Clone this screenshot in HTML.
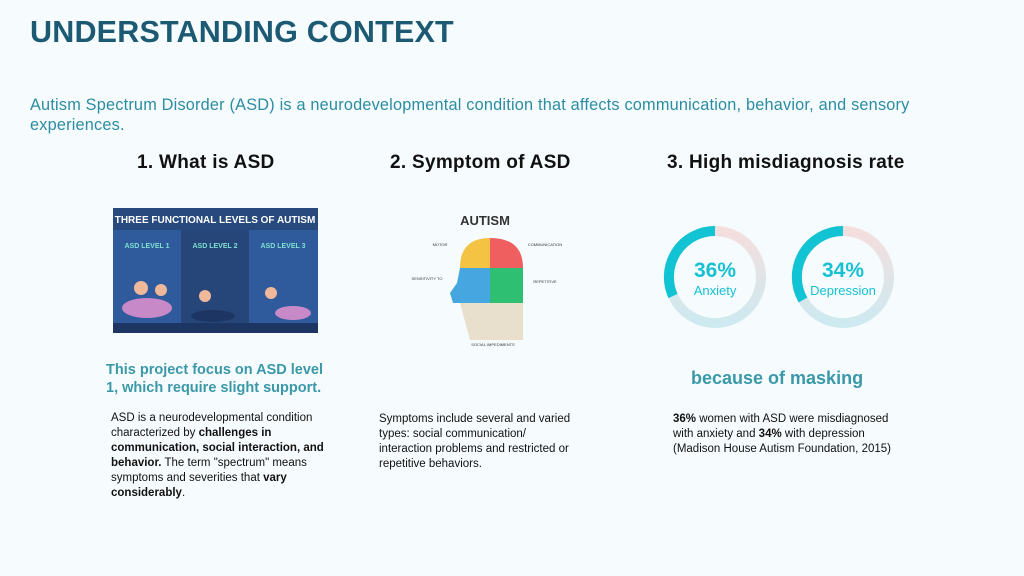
<!DOCTYPE html>
<html><head><meta charset="utf-8"><style>
*{margin:0;padding:0;box-sizing:border-box}
body{width:1024px;height:576px;background:#f6fcfd;font-family:"Liberation Sans",sans-serif;position:relative;overflow:hidden}
.a{position:absolute}
h1{position:absolute;left:30px;top:15px;font-size:30.5px;font-weight:700;color:#1c5a73;letter-spacing:0.2px}
.sub{left:30px;top:95px;width:920px;font-size:16.3px;line-height:20px;color:#2b8ca2;letter-spacing:0.2px}
.h{font-size:19px;font-weight:700;color:#111;top:152px;letter-spacing:0.3px}
.t{font-size:11.5px;line-height:15px;color:#111}
.teal{color:#3a98a8;font-weight:700}
</style></head><body>
<h1>UNDERSTANDING CONTEXT</h1>
<div class="a sub">Autism Spectrum Disorder (ASD) is a neurodevelopmental condition that affects communication, behavior, and sensory experiences.</div>
<div class="a h" style="left:137px">1. What is ASD</div>
<div class="a h" style="left:390px">2. Symptom of ASD</div>
<div class="a h" style="left:667px">3. High misdiagnosis rate</div>

<svg class="a" style="left:113px;top:208px" width="205" height="125">
<rect width="205" height="125" fill="#2f5b9c"/>
<rect width="205" height="22" fill="#27497e"/>
<text x="102" y="15" text-anchor="middle" font-size="10" fill="#fff" font-weight="700" font-family="Liberation Sans">THREE FUNCTIONAL LEVELS OF AUTISM</text>
<rect x="68" y="22" width="68" height="93" fill="#26467a"/>
<text x="34" y="40" text-anchor="middle" font-size="7" fill="#7fe0d0" font-weight="700">ASD LEVEL 1</text>
<text x="102" y="40" text-anchor="middle" font-size="7" fill="#7fe0d0" font-weight="700">ASD LEVEL 2</text>
<text x="170" y="40" text-anchor="middle" font-size="7" fill="#7fe0d0" font-weight="700">ASD LEVEL 3</text>
<ellipse cx="34" cy="100" rx="25" ry="10" fill="#c889c8"/>
<circle cx="28" cy="80" r="7" fill="#f0b89a"/><circle cx="48" cy="82" r="6" fill="#f0b89a"/>
<ellipse cx="100" cy="108" rx="22" ry="6" fill="#1d3563"/>
<circle cx="92" cy="88" r="6" fill="#f0b89a"/>
<circle cx="158" cy="85" r="6" fill="#f0b89a"/><ellipse cx="180" cy="105" rx="18" ry="7" fill="#c889c8"/>
<rect x="0" y="115" width="205" height="10" fill="#1d3563"/>
</svg>

<svg class="a" style="left:405px;top:208px" width="165" height="140" font-family="Liberation Sans">
<text x="80" y="17" text-anchor="middle" font-size="13" font-weight="700" fill="#333">AUTISM</text>
<path d="M55 60 Q55 30 85 30 L85 60 Z" fill="#f5c343"/>
<path d="M85 30 Q118 30 118 60 L85 60 Z" fill="#ef5f5f"/>
<path d="M55 60 L85 60 L85 95 L48 95 L45 85 L52 75 Z" fill="#46a6e0"/>
<path d="M85 60 L118 60 L118 95 L85 95 Z" fill="#2fbf73"/>
<path d="M55 95 L118 95 L118 132 L65 132 Z" fill="#e8dfcc"/>
<text x="35" y="38" text-anchor="middle" font-size="4" fill="#333">MOTOR</text>
<text x="140" y="38" text-anchor="middle" font-size="4" fill="#333">COMMUNICATION</text>
<text x="22" y="72" text-anchor="middle" font-size="4" fill="#333">SENSITIVITY TO</text>
<text x="140" y="75" text-anchor="middle" font-size="4" fill="#333">REPETITIVE</text>
<text x="88" y="138" text-anchor="middle" font-size="4" fill="#333">SOCIAL IMPEDIMENTS</text>
</svg>

<svg class="a" style="left:655px;top:220px" width="260" height="115" font-family="Liberation Sans">
<defs><linearGradient id="g" x1="0" y1="0" x2="0" y2="1"><stop offset="0" stop-color="#f5dede"/><stop offset="1" stop-color="#cdeaf0"/></linearGradient></defs>
<g transform="translate(60,57)">
<circle r="46" fill="none" stroke="url(#g)" stroke-width="10"/>
<path d="M0 -46 A46 46 0 0 0 -42 19" fill="none" stroke="#12c3d3" stroke-width="10"/>
<text y="0" text-anchor="middle" font-size="21" font-weight="700" fill="#17c1d3">36%</text>
<text y="18" text-anchor="middle" font-size="13" fill="#17c1d3">Anxiety</text>
</g>
<g transform="translate(188,57)">
<circle r="46" fill="none" stroke="url(#g)" stroke-width="10"/>
<path d="M0 -46 A46 46 0 0 0 -40 23" fill="none" stroke="#12c3d3" stroke-width="10"/>
<text y="0" text-anchor="middle" font-size="21" font-weight="700" fill="#17c1d3">34%</text>
<text y="18" text-anchor="middle" font-size="13" fill="#17c1d3">Depression</text>
</g>
</svg>

<div class="a teal" style="left:106px;top:361px;width:232px;font-size:14.5px;line-height:18px">This project focus on ASD level 1, which require slight support.</div>
<div class="a teal" style="left:691px;top:368px;font-size:18px">because of masking</div>

<div class="a t" style="left:111px;top:411px;width:216px">ASD is a neurodevelopmental condition characterized by <b>challenges in communication, social interaction, and behavior.</b> The term "spectrum" means symptoms and severities that <b>vary considerably</b>.</div>
<div class="a t" style="left:379px;top:412px;width:196px">Symptoms include several and varied types: social communication/ interaction problems and restricted or repetitive behaviors.</div>
<div class="a t" style="left:673px;top:412px;width:232px"><b>36%</b> women with ASD were misdiagnosed with anxiety and <b>34%</b> with depression (Madison House Autism Foundation, 2015)</div>
</body></html>
